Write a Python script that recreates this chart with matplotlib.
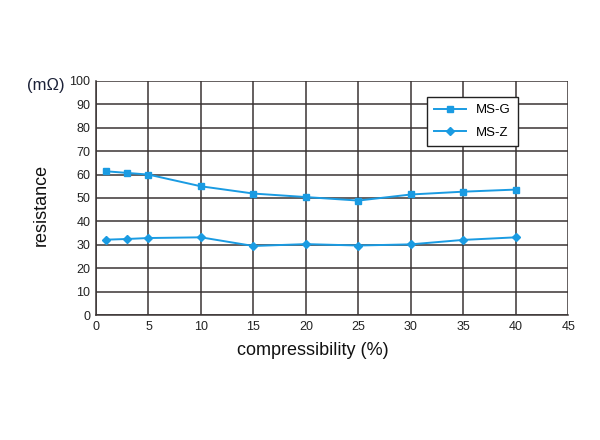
import matplotlib
matplotlib.use("Agg")
import matplotlib.pyplot as plt

plt.rcParams['font.family'] = ['Liberation Sans', 'DejaVu Sans']

compress = [1, 3, 5, 10, 15, 20, 25, 30, 35, 40]
ms_g = [61.4, 60.7, 60.0, 55.0, 51.9, 50.4, 48.9, 51.5, 52.7, 53.6]
ms_z = [32.2, 32.5, 32.9, 33.2, 29.5, 30.3, 29.7, 30.2, 32.1, 33.2]

line_color = "#1a9be2"
grid_color = "#3a3434"

fig = plt.figure(figsize=(6, 4.4), dpi=100)
ax = fig.add_axes([0.16, 0.284, 0.787, 0.532])

ax.plot(compress, ms_g, color=line_color, marker="s", markersize=5,
        linewidth=1.4, label="MS-G")
ax.plot(compress, ms_z, color=line_color, marker="D", markersize=4.5,
        linewidth=1.4, label="MS-Z")

ax.set_xlim(0, 45)
ax.set_ylim(0, 100)
ax.set_xticks(range(0, 46, 5))
ax.set_yticks(range(0, 101, 10))
ax.grid(True, color=grid_color, linewidth=1.1)
ax.set_axisbelow(True)
ax.tick_params(length=0, labelsize=9, pad=4, colors="#222222")
for s in ax.spines.values():
    s.set_color(grid_color)
    s.set_linewidth(1.1)
ax.spines['top'].set_visible(False)
ax.spines['right'].set_visible(False)

leg = ax.legend(loc="upper right", bbox_to_anchor=(0.894, 0.932),
                fancybox=False, framealpha=1, edgecolor="#222222",
                fontsize=9.5, handlelength=2.4, borderpad=0.55,
                labelspacing=0.75, handletextpad=0.8, borderaxespad=0)
leg.get_frame().set_linewidth(1.0)

fig.text(0.077, 0.805, "(mΩ)", fontsize=12, color="#1c2238",
         ha="center", va="center")
fig.text(0.068, 0.535, "resistance", fontsize=13, rotation=90,
         ha="center", va="center", color="#111111")
fig.text(0.521, 0.203, "compressibility (%)", fontsize=13,
         ha="center", va="center", color="#111111")

fig.savefig("out.png", dpi=100)
